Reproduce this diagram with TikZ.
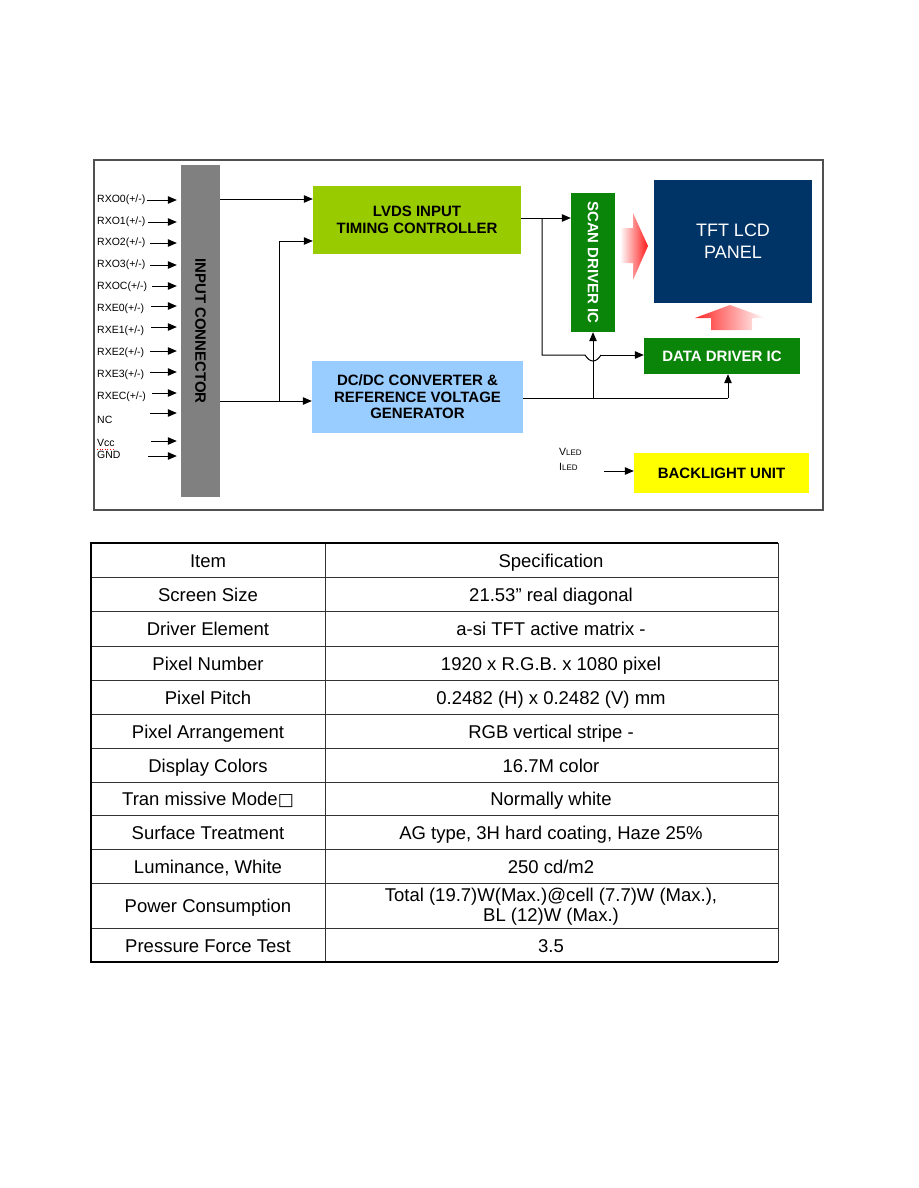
\documentclass[tikz,border=0pt]{standalone}
\usepackage{fontspec}
\setmainfont{Liberation Sans}
\newfontfamily\symfont{DejaVu Sans}
\usetikzlibrary{arrows.meta}
\definecolor{lvdsgreen}{HTML}{99CC00}
\definecolor{dcblue}{HTML}{99CCFF}
\definecolor{drvgreen}{HTML}{0A850A}
\definecolor{panelblue}{HTML}{003366}
\definecolor{blyellow}{HTML}{FFFF00}
\definecolor{bargray}{HTML}{808080}
\definecolor{framegray}{HTML}{505050}
\tikzset{
  blk/.style={inner sep=0pt, align=center, font=\fontsize{15}{16.5}\selectfont\bfseries},
  pin/.style={anchor=west, inner sep=0pt, font=\fontsize{10.5}{12}\selectfont},
  conn/.style={line width=1pt, -{Triangle[length=9pt,width=7.5pt]}},
  wire/.style={line width=1pt},
  cell/.style={inner sep=0pt, anchor=base, font=\fontsize{18.5}{21}\selectfont},
  thin/.style={line width=1pt, black!80},
  thick/.style={line width=2pt, black}
}
\begin{document}
\begin{tikzpicture}[x=1pt,y=-1pt]
\useasboundingbox (0,0) rectangle (918,1188);
\fill[white] (0,0) rectangle (918,1188);
% frame
\draw[framegray, line width=1.3pt] (94,160) rectangle (823,510);
% input connector bar
\node[blk, fill=bargray, minimum width=39pt, minimum height=332pt] (bar) at (200.5,331) {};
\node[blk, rotate=-90] (bartxt) at (200.5,331) {INPUT CONNECTOR};
% blocks
\node[blk, fill=lvdsgreen, minimum width=208pt, minimum height=68pt] (lvds) at (417,220) {LVDS INPUT\\TIMING CONTROLLER};
\node[blk, fill=dcblue, minimum width=211pt, minimum height=72pt] (dcdc) at (417.5,397) {DC/DC CONVERTER \&\\REFERENCE VOLTAGE\\GENERATOR};
\node[blk, fill=drvgreen, minimum width=44pt, minimum height=139pt] (scan) at (593,262.5) {};
\node[blk, text=white, rotate=-90] (scantxt) at (593,262.5) {SCAN DRIVER IC};
\node[blk, fill=panelblue, text=white, minimum width=158pt, minimum height=123pt, font=\fontsize{18}{22}\selectfont] (panel) at (733,241.5) {TFT LCD\\PANEL};
\node[blk, fill=drvgreen, text=white, minimum width=156pt, minimum height=36pt] (data) at (722,356) {DATA DRIVER IC};
\node[blk, fill=blyellow, minimum width=175pt, minimum height=40pt] (bl) at (721.5,473) {BACKLIGHT UNIT};
% red gradient arrows
\shade[left color=white, right color=red!90, draw=none]
  (620,228) -- (633,228) -- (633,213) -- (648,246) -- (633,280) -- (633,263) -- (620,263) -- cycle;
\shade[left color=red!85, right color=white, draw=none]
  (695,318) -- (730,305) -- (766,318) -- (752,318) -- (752,330) -- (711,330) -- (711,318) -- cycle;
% input pins
\foreach \t/\y/\ya/\xs in {{RXO0(+/-)}/200/200/147, {RXO1(+/-)}/222/222/148, {RXO2(+/-)}/243/243/150,
  {RXO3(+/-)}/265/265/150, {RXOC(+/-)}/287/286/152, {RXE0(+/-)}/309/306/151, {RXE1(+/-)}/331/327/151,
  {RXE2(+/-)}/353/351/150, {RXE3(+/-)}/375/372/150, {RXEC(+/-)}/397/393/152}{
  \node[pin] (p\y) at (97,\y) {\t};
  \coordinate (s\y) at (\xs,\ya);
  \draw[conn] (s\y) -- ([xshift=-4pt]bar.west |- s\y);
}
\node[pin] (pnc) at (97,420) {NC};
\coordinate (snc) at (150,413);
\draw[conn] (snc) -- ([xshift=-4pt]bar.west |- snc);
\node[pin] (pvcc) at (97,443) {Vcc};
\draw[red, line width=0.6pt, dotted] (97,449.5) -- (115,449.5);
\coordinate (svcc) at (151,441);
\draw[conn] (svcc) -- ([xshift=-4pt]bar.west |- svcc);
\node[pin] (pgnd) at (97,455) {GND};
\coordinate (sgnd) at (148,456);
\draw[conn] (sgnd) -- ([xshift=-4pt]bar.west |- sgnd);
% connector outputs
\coordinate (j0) at (279,199);
\coordinate (j1) at (279,401);
\coordinate (j2) at (279,241);
\draw[conn] (bar.east |- j0) -- (lvds.west |- j0);
\draw[conn] (bar.east |- j1) -- (dcdc.west |- j1);
\draw[wire] (j1) -- (j2);
\draw[conn] (j2) -- (lvds.west |- j2);
% timing controller outputs
\coordinate (t1) at (542,218);
\coordinate (t2) at (542,355);
\coordinate (d1) at (585,355);
\coordinate (d2) at (601,355);
\draw[conn] (lvds.east |- t1) -- (scan.west |- t1);
\draw[wire] (t1) -- (t2) -- (d1) .. controls (590,363) and (596,363) .. (d2);
\draw[conn] (d2) -- (data.west |- d2);
% dc/dc outputs
\coordinate (v1) at (593,398);
\coordinate (v2) at (728,398);
\draw[wire] (dcdc.east |- v1) -- (v2);
\draw[conn] (v1) -- (scan.south);
\draw[conn] (v2) -- (data.south -| v2);
% backlight inputs
\node[pin] (vled) at (559,452) {V\fontsize{8}{9}\selectfont LED};
\node[pin] (iled) at (559,467) {I\fontsize{8}{9}\selectfont LED};
\coordinate (b1) at (604,471);
\draw[conn] (b1) -- (bl.west |- b1);
% table
\foreach \y in {577,611,646,680,714,748,782,815,849,883,928}{
  \draw[thin] (91,\y) -- (778,\y);
}
\draw[thin] (325,543) -- (325,962);
\draw[thin] (778,543) -- (778,962);
\draw[thick] (778,543) -- (91,543) -- (91,962) -- (778,962);
\foreach \n/\y/\a/\b in {h/567.5/Item/Specification, r1/601.5/Screen Size/{21.53” real diagonal},
  r2/635.5/Driver Element/{a-si TFT active matrix -}, r3/670/Pixel Number/{1920 x R.G.B. x 1080 pixel},
  r4/704/Pixel Pitch/{0.2482 (H) x 0.2482 (V) mm}, r5/738/Pixel Arrangement/{RGB vertical stripe -},
  r6/772/Display Colors/{16.7M color}, r8/839/Surface Treatment/{AG type, 3H hard coating, Haze 25\%},
  r9/873/{Luminance, White}/{250 cd/m2}, r11/952/Pressure Force Test/3.5}{
  \node[cell] (\n a) at (208,\y) {\a};
  \node[cell] (\n b) at (551,\y) {\b};
}
\node[cell] (r7a) at (208,805.5) {Tran missive Mode{\symfont\fontsize{17}{18}\selectfont □}};
\node[cell] (r7b) at (551,805.5) {Normally white};
\node[cell] (r10a) at (208,912.5) {Power Consumption};
\node[cell] (r10b) at (551,901.5) {Total (19.7)W(Max.)@cell (7.7)W (Max.),};
\node[cell] (r10c) at (551,921.5) {BL (12)W (Max.)};
\end{tikzpicture}
\end{document}
